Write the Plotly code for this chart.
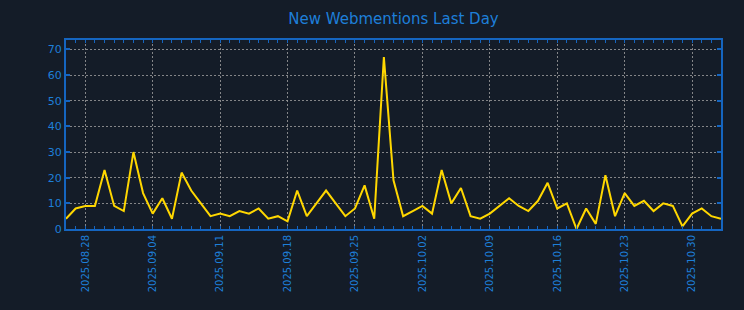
import plotly.graph_objects as go
import pandas as pd

dates = pd.date_range("2025-08-26", "2025-11-02", freq="D")
values = [
    4, 8, 9, 9, 23, 9, 7, 30, 14, 6, 12, 4, 22, 15, 10, 5, 6, 5, 7, 6,
    8, 4, 5, 3, 15, 5, 10, 15, 10, 5, 8, 17, 4, 67, 19, 5, 7, 9, 6, 23,
    10, 16, 5, 4,
    6, 9, 12, 9, 7, 11, 18, 8, 10, 0, 8, 2, 21, 5, 14, 9, 11, 7, 10, 9,
    1, 6, 8, 5, 4,
]
tick_dates = pd.date_range("2025-08-28", "2025-10-30", freq="7D")

BG = "#141c28"
BLUE = "#1e7fd8"
AXIS = "#1565c0"
GRID = "rgba(160,160,160,0.8)"

fig = go.Figure()
fig.add_trace(go.Scatter(x=dates, y=values, mode="lines",
                         line=dict(color="#ffd700", width=2), hoverinfo="x+y"))

fig.update_layout(
    width=744, height=310,
    paper_bgcolor=BG, plot_bgcolor=BG,
    margin=dict(l=66, r=23, t=40, b=81),
    showlegend=False,
    font=dict(family="DejaVu Sans", color=BLUE, size=11),
    title=dict(text="New Webmentions Last Day", x=0.5, xref="paper",
               y=1 - 19 / 310, yanchor="middle",
               font=dict(family="DejaVu Sans", size=15, color=BLUE)),
)
fig.update_xaxes(
    range=[dates[0], dates[-1]],
    tickvals=list(tick_dates), tickformat="%Y.%m.%d", tickangle=-90,
    showgrid=True, gridcolor=GRID, griddash="2px,2px", gridwidth=1,
    showline=True, linecolor=AXIS, linewidth=2, mirror="allticks",
    ticks="inside", ticklen=3, tickcolor=AXIS, tickwidth=1,
    minor=dict(dtick=86400000, ticks="inside", ticklen=3, tickcolor=AXIS, showgrid=False),
    zeroline=False, tickfont=dict(color=BLUE, size=10),
)
fig.update_yaxes(
    range=[0, 73.7], tickvals=[0, 10, 20, 30, 40, 50, 60, 70],
    showgrid=True, gridcolor=GRID, griddash="2px,2px", gridwidth=1,
    showline=True, linecolor=AXIS, linewidth=2, mirror="allticks",
    ticks="inside", ticklen=4, tickcolor=AXIS, tickwidth=2,
    zeroline=False, tickfont=dict(color=BLUE, size=11),
)

fig.write_html("out.html")
